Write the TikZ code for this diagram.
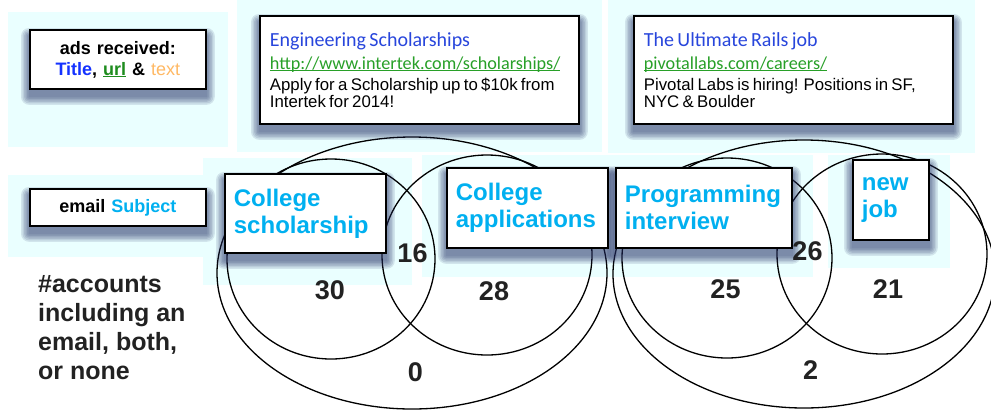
\documentclass[tikz,border=0pt]{standalone}
\usepackage{fontspec}
\setmainfont{Liberation Sans}
\newfontfamily\calib{Carlito}
\usetikzlibrary{calc}
\pgfdeclarelayer{panel}
\pgfdeclarelayer{ell}
\pgfdeclarelayer{shad}
\pgfsetlayers{panel,ell,shad,main}
\definecolor{panelc}{RGB}{234,255,255}
\definecolor{cyantx}{RGB}{0,176,240}
\definecolor{titleblue}{RGB}{20,50,255}
\definecolor{adblue}{RGB}{40,70,220}
\definecolor{urlgreen}{RGB}{30,140,30}
\definecolor{adgreen}{RGB}{40,160,40}
\definecolor{txtorange}{RGB}{255,185,100}
\definecolor{numgray}{RGB}{34,34,34}
\definecolor{shadc}{RGB}{35,45,100}
\newcommand{\fs}[2]{\fontsize{#1bp}{#2bp}\selectfont}
\newcommand{\myul}[1]{{\setbox0=\hbox{#1}\rlap{\rule[-2.2bp]{\wd0}{1bp}}\box0}}
\newcommand{\softshadow}[1]{%
  \foreach \r in {8,6.5,5,3.5,2,0.5}{
    \fill[shadc,opacity=0.12,rounded corners=\r bp]
      ($(#1.south west)+(-\r,7+\r)$) rectangle ($(#1.north east)+(\r,7-\r)$);
  }}
\tikzset{
  boxst/.style={draw=black, line width=1.8bp, fill=white, anchor=north west, inner ysep=0pt},
  lbl/.style={boxst, inner xsep=9bp, align=left, font=\fs{24}{27}\bfseries, text=cyantx, minimum height=80bp},
  adbox/.style={boxst, inner xsep=10bp, text width=299bp, align=left, minimum height=108bp},
  num/.style={font=\fs{27}{27}\bfseries, text=numgray, inner sep=0pt},
  ellst/.style={draw=black, line width=1.3bp},
  panelst/.style={fill=panelc}
}
\begin{document}
\begin{tikzpicture}[x=1bp,y=-1bp]
\useasboundingbox (0,0) rectangle (991,410);
% panels
\begin{pgfonlayer}{panel}
\fill[panelst] (8,12) rectangle (228,147);
\fill[panelst] (237,0) rectangle (602,152);
\fill[panelst] (608,0) rectangle (975,153);
\fill[panelst] (8,175) rectangle (205,257);
\fill[panelst] (203,158) rectangle (412,285);
\fill[panelst] (422,155) rectangle (813,277);
\fill[panelst] (828,155) rectangle (950,268);
\end{pgfonlayer}
% venn ellipses
\begin{pgfonlayer}{ell}
\draw[ellst] (412,273) ellipse [x radius=195bp, y radius=136bp];
\draw[ellst] (331,259) ellipse [x radius=104bp, y radius=100bp];
\draw[ellst] (487,255) ellipse [x radius=105bp, y radius=100bp];
\draw[ellst] (804,274) ellipse [x radius=191bp, y radius=134bp];
\draw[ellst] (727,258) ellipse [x radius=105bp, y radius=100bp];
\draw[ellst] (882,254) ellipse [x radius=105bp, y radius=100bp];
\end{pgfonlayer}
% boxes
\node[boxst, inner xsep=0pt, text width=176bp, align=center, minimum height=59bp,
      font=\fs{18}{21}\bfseries] (ads) at (29,29)
  {ads received:\\\textcolor{titleblue}{Title}, \textcolor{urlgreen}{\myul{url}} \& \textcolor{txtorange}{\mdseries text}};
\node[boxst, inner xsep=0pt, text width=176bp, align=center, minimum height=37bp,
      font=\fs{18}{21}\bfseries] (subj) at (29,188)
  {email \textcolor{cyantx}{Subject}};
\node[adbox] (eng) at (259,15)
  {{\calib\fs{20}{23}\textcolor{adblue}{Engineering Scholarships}\par}%
   {\calib\fs{18.2}{23}\textcolor{adgreen}{\myul{http://www.intertek.com/scholarships/}}\par}%
   \vspace{4bp}%
   {\fs{16.8}{17}Apply for a Scholarship up to \$10k from\\Intertek for 2014!\par}};
\node[adbox] (rails) at (633,15)
  {{\calib\fs{20}{23}\textcolor{adblue}{The Ultimate Rails job}\par}%
   {\calib\fs{18.2}{23}\textcolor{adgreen}{\myul{pivotallabs.com/careers/}}\par}%
   \vspace{4bp}%
   {\fs{16.8}{17}Pivotal Labs is hiring! Positions in SF,\\NYC \& Boulder\par}};
\node[lbl, text width=143bp, minimum height=79bp] (cs) at (224,173) {College\\scholarship};
\node[lbl, text width=143bp] (ca) at (446,167) {College\\applications};
\node[lbl, text width=158bp] (pi) at (615,167) {Programming\\interview};
\node[lbl, text width=58bp] (nj) at (852,159) {new\\job};
% shadows
\begin{pgfonlayer}{shad}
\softshadow{ads}
\softshadow{subj}
\softshadow{eng}
\softshadow{rails}
\softshadow{cs}
\softshadow{ca}
\softshadow{pi}
\softshadow{nj}
\end{pgfonlayer}
% numbers
\node[num] (n16) at (412.5,253) {16};
\node[num] (n30) at (330,290) {30};
\node[num] (n28) at (494,291) {28};
\node[num] (n0) at (415.5,372) {0};
\node[num] (n26) at (807.5,251) {26};
\node[num] (n25) at (725.5,289) {25};
\node[num] (n21) at (888,289) {21};
\node[num] (n2) at (810.5,370) {2};
% side text
\node[anchor=north west, inner sep=0pt, align=left, text=numgray,
      font=\fs{25}{29}\bfseries] (acc) at (38,275)
  {\#accounts\\including an\\email, both,\\or none};
\end{tikzpicture}
\end{document}
